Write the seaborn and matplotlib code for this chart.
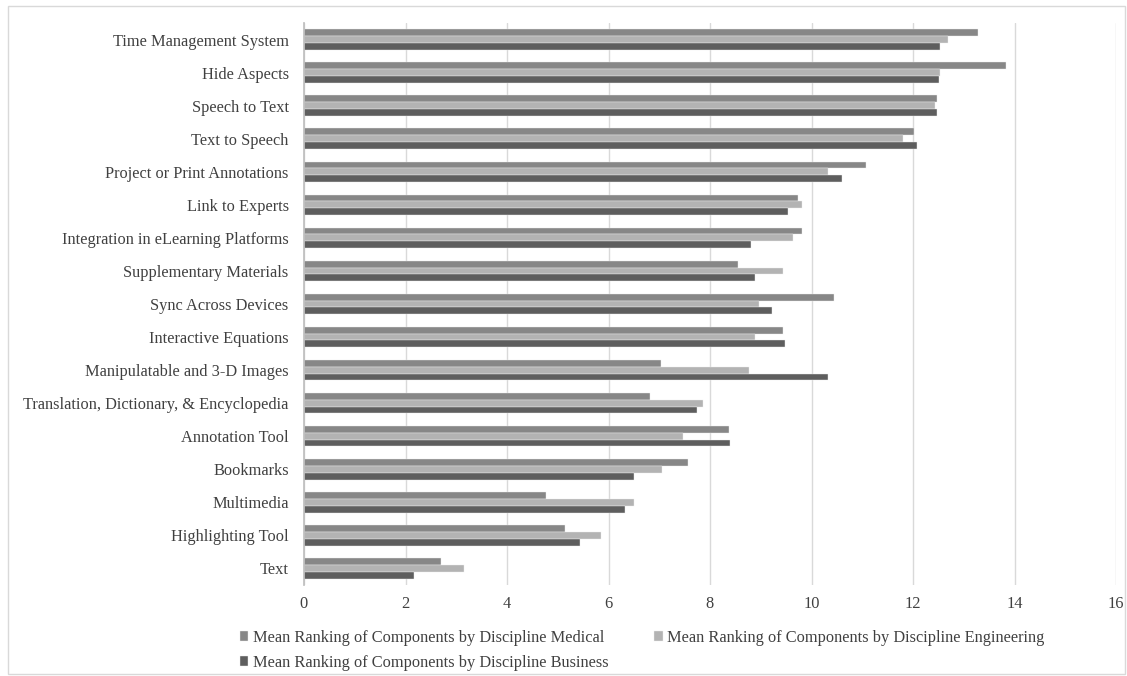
import pandas as pd
import numpy as np
import matplotlib
matplotlib.use("Agg")
import matplotlib.pyplot as plt
import seaborn as sns

# categories, top to bottom
components = ['Time Management System', 'Hide Aspects', 'Speech to Text', 'Text to Speech',
              'Project or Print Annotations', 'Link to Experts', 'Integration in eLearning Platforms',
              'Supplementary Materials', 'Sync Across Devices', 'Interactive Equations',
              'Manipulatable and 3-D Images', 'Translation, Dictionary, & Encyclopedia',
              'Annotation Tool', 'Bookmarks', 'Multimedia', 'Highlighting Tool', 'Text']

medical = [13.29, 13.83, 12.48, 12.02, 11.08, 9.74, 9.81, 8.55, 10.45, 9.43,
           7.04, 6.82, 8.37, 7.57, 4.77, 5.14, 2.69]
engineering = [12.68, 12.54, 12.43, 11.81, 10.33, 9.81, 9.64, 9.43, 8.96, 8.89,
               8.77, 7.87, 7.47, 7.06, 6.50, 5.85, 3.15]
business = [12.54, 12.51, 12.48, 12.07, 10.61, 9.54, 8.81, 8.89, 9.23, 9.47,
            10.33, 7.74, 8.40, 6.50, 6.33, 5.43, 2.17]

series_names = ['Mean Ranking of Components by Discipline Medical',
                'Mean Ranking of Components by Discipline Engineering',
                'Mean Ranking of Components by Discipline Business']
colors = ['#878787', '#b3b3b3', '#5e5e5e']

# long format table for seaborn
df = pd.DataFrame({'Component': components * 3,
                   'Value': medical + engineering + business,
                   'Series': [series_names[0]] * 17 + [series_names[1]] * 17 + [series_names[2]] * 17})

sns.set_theme(style="white")
plt.rcParams['font.family'] = ['Liberation Serif', 'DejaVu Serif']

fig = plt.figure(figsize=(11.27, 6.76), dpi=100)
ax = fig.add_axes([304 / 1127, 1 - 585 / 676, (1116 - 304) / 1127, (585 - 23) / 676])

sns.barplot(data=df, y='Component', x='Value', hue='Series', order=components,
            hue_order=series_names, palette=colors, orient='h', width=0.62,
            edgecolor='#ececec', linewidth=0.3, saturation=1, ax=ax, legend=True)

ax.set_xlim(0, 16)
ax.set_xticks(np.arange(0, 17, 2))
ax.xaxis.grid(True, color='#d9d9d9', linewidth=1)
ax.set_axisbelow(True)
for s in ['top', 'right', 'bottom']:
    ax.spines[s].set_visible(False)
ax.spines['left'].set_color('#bfbfbf')
ax.set_xlabel('')
ax.set_ylabel('')
ax.tick_params(axis='both', length=0, labelsize=11.8, colors='#404040', pad=8)
ax.tick_params(axis='y', pad=11)

# legend filled row by row: Medical, Engineering / Business
handles, labels = ax.get_legend_handles_labels()
ax.get_legend().remove()
idx = [0, 2, 1]
fig.legend([handles[i] for i in idx], [labels[i] for i in idx], loc='upper left',
           bbox_to_anchor=(225 / 1127, 1 - 615 / 676),
           ncol=2, frameon=False, fontsize=11.8, handlelength=0.5, handleheight=0.5,
           handletextpad=0.3, columnspacing=2.8, labelspacing=0.55, labelcolor='#404040')

# light border around the chart
fig.patches.append(plt.Rectangle((8 / 1127, 2 / 676), 1117 / 1127, 668 / 676, fill=False,
                                 edgecolor='#d9d9d9', linewidth=1, transform=fig.transFigure))

fig.savefig('out.png', dpi=100)
